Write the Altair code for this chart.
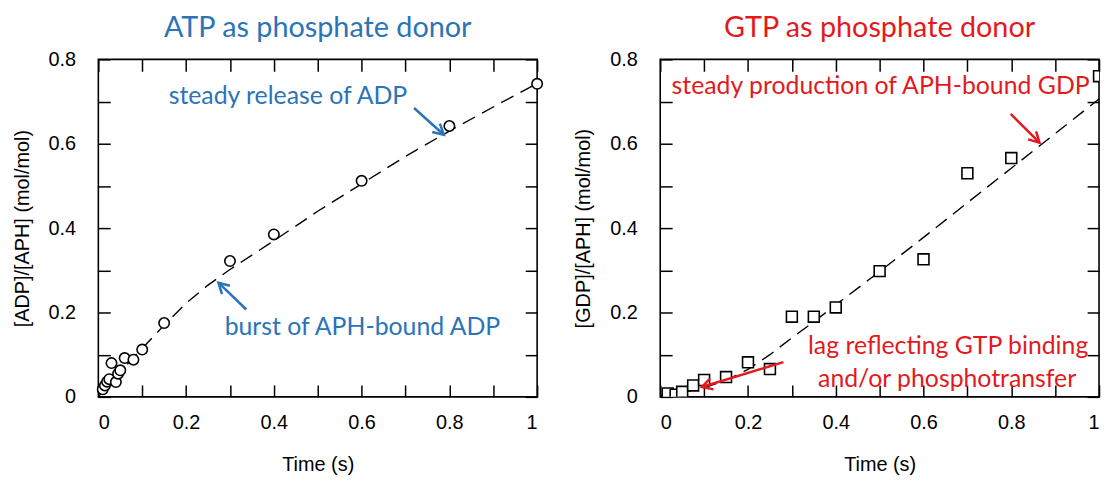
import math
import altair as alt
import pandas as pd

# ---------------- data ----------------
atp_t = [0.01, 0.015, 0.02, 0.025, 0.03, 0.04, 0.045, 0.05, 0.06, 0.08, 0.10, 0.15, 0.30, 0.40, 0.60, 0.80, 1.00]
atp_y = [0.018, 0.027, 0.036, 0.042, 0.080, 0.035, 0.055, 0.063, 0.092, 0.088, 0.112, 0.175, 0.322, 0.385, 0.512, 0.642, 0.742]

atp_fit_t = [0.0, 0.05, 0.10, 0.15, 0.20, 0.25, 0.30, 0.40, 0.50, 0.60, 0.70, 0.80, 0.90, 1.00]
atp_fit_y = [0.0, 0.060, 0.115, 0.170, 0.222, 0.265, 0.302, 0.370, 0.440, 0.505, 0.570, 0.630, 0.687, 0.743]

gtp_t = [0.017, 0.035, 0.05, 0.075, 0.10, 0.15, 0.20, 0.25, 0.30, 0.35, 0.40, 0.50, 0.60, 0.70, 0.80, 1.00]
gtp_y = [0.008, 0.005, 0.012, 0.027, 0.040, 0.047, 0.082, 0.066, 0.190, 0.190, 0.212, 0.298, 0.326, 0.530, 0.566, 0.760]

gtp_fit_t = [0.0, 0.05, 0.10, 0.15, 0.20, 0.25, 0.30, 0.35, 0.40, 0.50, 0.60, 0.70, 0.80, 0.90, 1.00]
gtp_fit_y = [0.003, 0.010, 0.022, 0.039, 0.065, 0.100, 0.140, 0.178, 0.218, 0.297, 0.378, 0.460, 0.542, 0.624, 0.706]

x_labels = [0, 0.2, 0.4, 0.6, 0.8, 1]
y_labels = [0, 0.2, 0.4, 0.6, 0.8]
x_minor = [0, 0.1, 0.2, 0.3, 0.4, 0.5, 0.6, 0.7, 0.8, 0.9, 1.0]
y_minor = [0, 0.1, 0.2, 0.3, 0.4, 0.5, 0.6, 0.7, 0.8]

# ---------------- style ----------------
BLUE = "#2A74B7"
RED = "#E4191D"
W, H = 442, 340
AXFONT = "Liberation Sans"
ANNFONT = "Lato"
TICK = 12


def arrow_layers(tail, tip, color):
    dx = tip[0] - tail[0]
    dy = tip[1] - tail[1]
    ang = math.degrees(math.atan2(dx, -dy)) % 360
    one = alt.Data(values=[{"k": 1}])
    shaft = alt.Chart(one).mark_rule(color=color, strokeWidth=2.5).encode(
        x=alt.value(tail[0]), y=alt.value(tail[1]),
        x2=alt.value(tip[0]), y2=alt.value(tip[1]))
    head = alt.Chart(one).mark_point(
        shape="M-0.55,1L0,0L0.55,1", filled=False, color=color,
        strokeWidth=2.5, size=440, angle=ang, opacity=1).encode(
        x=alt.value(tip[0]), y=alt.value(tip[1]))
    return [shaft, head]


def text_layer(txt, x, y, color, size=25):
    one = alt.Data(values=[{"k": 1}])
    return alt.Chart(one).mark_text(
        text=txt, font=ANNFONT, fontSize=size, color=color,
        align="center", baseline="middle").encode(
        x=alt.value(x), y=alt.value(y))


def panel(ts, ys, fts, fys, shape, size, ytitle, title, tcolor, texts, arrows, clip):
    pts = pd.DataFrame({"t": ts, "v": ys})
    fit = pd.DataFrame({"t": fts, "v": fys})
    xs = alt.Scale(domain=[0, 1], nice=False, zero=False)
    ysc = alt.Scale(domain=[0, 0.8], nice=False)

    line = alt.Chart(fit).mark_line(color="black", strokeWidth=1.4, strokeDash=[14, 8]).encode(
        x=alt.X("t:Q", scale=xs, axis=None),
        y=alt.Y("v:Q", scale=ysc, axis=None))

    common = dict(format="~g", ticks=False, domain=False, grid=False,
                  labelFont=AXFONT, titleFont=AXFONT, labelFontSize=20, titleFontSize=20,
                  labelColor="black", titleColor="black", titleFontWeight="normal")
    lab_x = alt.Axis(orient="bottom", values=x_labels, labelPadding=16,
                     title="Time (s)", titlePadding=22, **common)
    lab_y = alt.Axis(orient="left", values=y_labels, labelPadding=23,
                     title=ytitle, titlePadding=16, **common)
    points = alt.Chart(pts).mark_point(
        shape=shape, size=size, filled=True, fill="white", stroke="black",
        strokeWidth=1.6, opacity=1, clip=clip).encode(
        x=alt.X("t:Q", scale=xs, axis=lab_x),
        y=alt.Y("v:Q", scale=ysc, axis=lab_y))

    def tick_axis(orient, vals):
        return alt.Axis(orient=orient, values=vals, labels=False, domain=False, grid=False,
                        ticks=True, tickSize=TICK, offset=-TICK, tickColor="black",
                        tickWidth=1.5, title=None)

    ticks_a = alt.Chart(pts).mark_point(opacity=0).encode(
        x=alt.X("t:Q", scale=xs, axis=tick_axis("bottom", x_minor)),
        y=alt.Y("v:Q", scale=ysc, axis=tick_axis("left", y_minor)))
    ticks_b = alt.Chart(pts).mark_point(opacity=0).encode(
        x=alt.X("t:Q", scale=xs, axis=tick_axis("top", x_minor)),
        y=alt.Y("v:Q", scale=ysc, axis=tick_axis("right", y_minor)))

    layers = [ticks_a, ticks_b, line, points]
    for (txt, x, y, c) in texts:
        layers.append(text_layer(txt, x, y, c))
    for (tail, tip, c) in arrows:
        layers.extend(arrow_layers(tail, tip, c))

    return alt.layer(*layers).resolve_axis(x="independent", y="independent").properties(
        width=W, height=H,
        title=alt.Title(title, color=tcolor, font=ANNFONT, fontSize=29, fontWeight="normal",
                        anchor="middle", offset=7))


left = panel(
    atp_t, atp_y, atp_fit_t, atp_fit_y, "circle", 110,
    "[ADP]/[APH] (mol/mol)", "ATP as phosphate donor", BLUE,
    [("steady release of ADP", 191, 37, BLUE),
     ("burst of APH-bound ADP", 266, 270, BLUE)],
    [((318, 49), (348, 76), BLUE),
     ((149, 252), (121, 225), BLUE)],
    False)

right = panel(
    gtp_t, gtp_y, gtp_fit_t, gtp_fit_y, "square", 120,
    "[GDP]/[APH] (mol/mol)", "GTP as phosphate donor", RED,
    [("steady production of APH-bound GDP", 222, 27, RED),
     ("lag reflecting GTP binding", 290, 289, RED),
     ("and/or phosphotransfer", 289, 322, RED)],
    [((353, 55), (382, 84), RED),
     ((124, 305), (42, 330), RED)],
    True)

chart = alt.hconcat(left, right, spacing=124, bounds="flush").properties(
    padding={"left": 3, "top": 3, "right": 0, "bottom": 0},
    background="white"
).configure_view(
    stroke="black", strokeWidth=1.6
)

chart.save("out.html", embed_options={"renderer": "svg", "actions": False})
